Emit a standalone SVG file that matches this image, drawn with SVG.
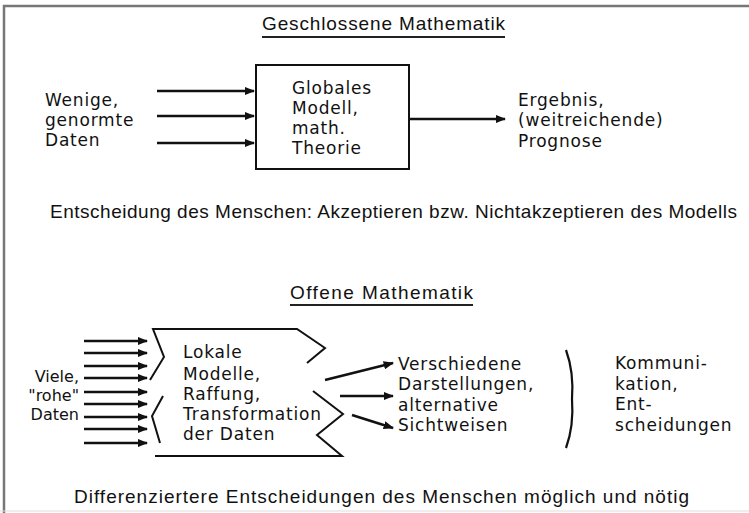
<svg xmlns="http://www.w3.org/2000/svg" width="749" height="513" viewBox="0 0 749 513">
<style>
.tw{font-family:"DejaVu Sans",sans-serif;font-size:17px;letter-spacing:0.8px;fill:#111}
.tl{font-family:"DejaVu Sans",sans-serif;font-size:16px;fill:#111;text-anchor:end}
.hd{font-family:"Liberation Sans",Arial,sans-serif;font-size:19px;fill:#111}
.ln{stroke:#111;stroke-width:2.6;fill:none}
.sh{stroke:#111;stroke-width:2;fill:none;stroke-linejoin:miter}
</style>
<defs>
<marker id="ah" viewBox="0 0 10 8" refX="9" refY="4" markerWidth="4" markerHeight="3.2" orient="auto" markerUnits="strokeWidth">
<path d="M0,0 L10,4 L0,8 Z" fill="#111"/>
</marker>
</defs>
<rect width="749" height="513" fill="#fff"/>
<path d="M4,513 V6 H749" stroke="#777" stroke-width="2.5" fill="none"/>
<line x1="0" y1="511" x2="749" y2="511" stroke="#ddd" stroke-width="1"/>

<g id="title1">
<text class="hd" x="262" y="30" textLength="243" lengthAdjust="spacing">Geschlossene Mathematik</text>
<line x1="262" y1="37" x2="505" y2="37" stroke="#222" stroke-width="2"/>
</g>

<g id="inputs1">
<text class="tw" x="45" y="106">Wenige,</text>
<text class="tw" x="45" y="126">genormte</text>
<text class="tw" x="45" y="146">Daten</text>
</g>

<g id="model1">
<rect x="256" y="65" width="153" height="104" class="sh"/>
<text class="tw" x="292" y="94">Globales</text>
<text class="tw" x="292" y="114">Modell,</text>
<text class="tw" x="292" y="134">math.</text>
<text class="tw" x="292" y="154">Theorie</text>
</g>

<g id="result1">
<text class="tw" x="518" y="106">Ergebnis,</text>
<text class="tw" x="518" y="126">(weitreichende)</text>
<text class="tw" x="518" y="147">Prognose</text>
</g>

<g id="decision1">
<text class="hd" x="50" y="218" font-size="18" textLength="687" lengthAdjust="spacing">Entscheidung des Menschen: Akzeptieren bzw. Nichtakzeptieren des Modells</text>
</g>

<g id="title2">
<text class="hd" x="290" y="299" textLength="183" lengthAdjust="spacing">Offene Mathematik</text>
<line x1="290" y1="305" x2="473" y2="305" stroke="#222" stroke-width="2"/>
</g>

<g id="inputs2">
<text class="tl" x="79" y="382">Viele,</text>
<text class="tl" x="79" y="401">"rohe"</text>
<text class="tl" x="79" y="420">Daten</text>
</g>

<g id="model2">
<path class="sh" d="M150,380 L164,357 L153,329 H297 L325,348 L307,363"/>
<path class="sh" d="M163,396 L152,416 L160,443"/>
<path class="sh" d="M313,391 L343,414 L317,435 L342,456 H155"/>
<text class="tw" x="183" y="358">Lokale</text>
<text class="tw" x="183" y="380">Modelle,</text>
<text class="tw" x="183" y="400">Raffung,</text>
<text class="tw" x="183" y="420">Transformation</text>
<text class="tw" x="183" y="440">der Daten</text>
</g>

<g id="views2">
<text class="tw" x="398" y="370">Verschiedene</text>
<text class="tw" x="398" y="390">Darstellungen,</text>
<text class="tw" x="398" y="411">alternative</text>
<text class="tw" x="398" y="431">Sichtweisen</text>
</g>

<g id="brace2">
<path d="M566,350 Q574,372 572,399 Q574,426 566,448" stroke="#111" stroke-width="2.2" fill="none"/>
</g>

<g id="comm2">
<text class="tw" x="615" y="369">Kommuni-</text>
<text class="tw" x="615" y="390">kation,</text>
<text class="tw" x="615" y="410">Ent-</text>
<text class="tw" x="615" y="431">scheidungen</text>
</g>

<g id="decision2">
<text class="hd" x="74" y="503" font-size="18" textLength="615" lengthAdjust="spacing">Differenziertere Entscheidungen des Menschen möglich und nötig</text>
</g>

<g id="connectors">
<line class="ln" x1="157" y1="91" x2="254" y2="91" marker-end="url(#ah)"/>
<line class="ln" x1="157" y1="116" x2="254" y2="116" marker-end="url(#ah)"/>
<line class="ln" x1="157" y1="143" x2="254" y2="143" marker-end="url(#ah)"/>
<line class="ln" x1="409" y1="119" x2="505" y2="119" marker-end="url(#ah)"/>
<line class="ln" x1="84" y1="341" x2="147" y2="341" marker-end="url(#ah)"/>
<line class="ln" x1="84" y1="353" x2="147" y2="353" marker-end="url(#ah)"/>
<line class="ln" x1="84" y1="366" x2="147" y2="366" marker-end="url(#ah)"/>
<line class="ln" x1="84" y1="378" x2="147" y2="378" marker-end="url(#ah)"/>
<line class="ln" x1="84" y1="392" x2="147" y2="392" marker-end="url(#ah)"/>
<line class="ln" x1="84" y1="404" x2="147" y2="404" marker-end="url(#ah)"/>
<line class="ln" x1="84" y1="417" x2="147" y2="417" marker-end="url(#ah)"/>
<line class="ln" x1="84" y1="429" x2="147" y2="429" marker-end="url(#ah)"/>
<line class="ln" x1="84" y1="443" x2="147" y2="443" marker-end="url(#ah)"/>
<line class="ln" x1="325" y1="380" x2="393" y2="363" marker-end="url(#ah)"/>
<line class="ln" x1="340" y1="396" x2="393" y2="396" marker-end="url(#ah)"/>
<line class="ln" x1="352" y1="415" x2="393" y2="428" marker-end="url(#ah)"/>
</g>
</svg>
